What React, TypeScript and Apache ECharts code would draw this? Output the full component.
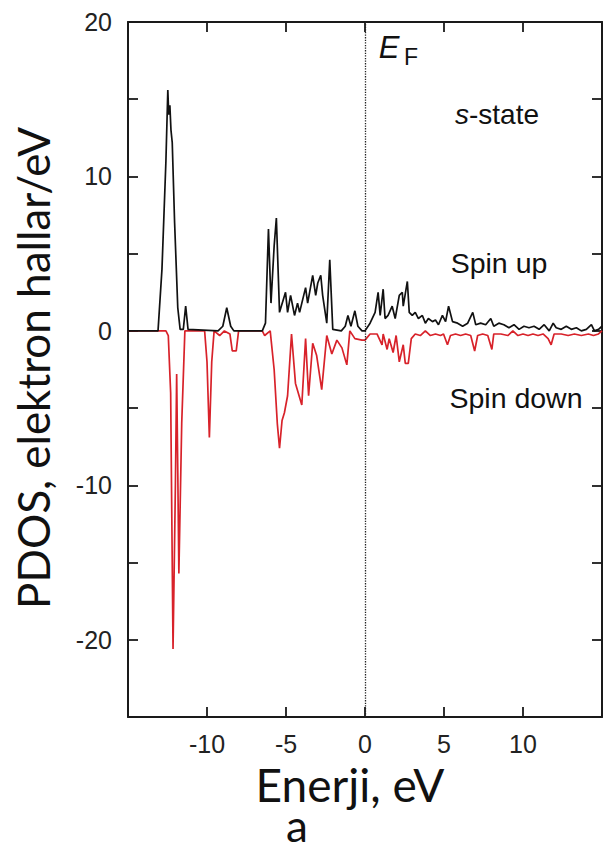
import React, { useEffect, useRef } from 'react';
import * as echarts from 'echarts';

// Energy (eV) and PDOS (electron states / eV)
const spinUpE = [
  -15, -13.1, -12.85, -12.6, -12.48, -12.42, -12.35, -12.28, -12.2, -12.05, -11.85, -11.7,
  -11.5, -11.35, -11.2, -9.3, -9.0, -8.75, -8.5, -8.3, -6.5, -6.3, -6.11, -5.95, -5.75, -5.61,
  -5.41, -5.03, -4.9, -4.71, -4.46, -4.27, -4.14, -3.76, -3.63, -3.31, -3.12, -2.99, -2.8, -2.68,
  -2.42, -2.23, -2.04, -1.5, -1.25, -1.08, -0.89, -0.64, -0.45, -0.19, 0, 0.32, 0.64, 0.83,
  0.96, 1.15, 1.27, 1.46, 1.72, 1.91, 2.17, 2.36, 2.42, 2.68, 2.8, 2.99, 3.18, 3.38, 3.63, 3.82,
  4.01, 4.27, 4.46, 4.65, 4.9, 5.1, 5.29, 5.54, 5.86, 6.18, 6.5, 6.82, 7.01, 7.32, 7.64, 7.96,
  8.15, 8.47, 8.79, 9.11, 9.43, 9.75, 10.06, 10.38, 10.7, 11.02, 11.34, 11.66, 11.91, 12.1,
  12.42, 12.74, 13.06, 13.38, 13.69, 14.01, 14.33, 14.52, 14.78, 15,
];
const spinUpDos = [
  0, 0, 4, 11, 15.6, 14.0, 14.6, 13.0, 12.2, 7, 1.5, 0.1,
  0.1, 1.6, 0.1, 0, 0.3, 1.5, 0.3, 0, 0, 0.5, 6.6, 1.8, 5.5, 7.3,
  1.2, 2.5, 1.2, 2.3, 1.0, 1.8, 1.2, 2.8, 1.8, 3.6, 2.3, 3.1, 3.6, 2.3,
  0.5, 4.6, 0.1, 0, 0.3, 1.0, 0.3, 1.3, 0.3, 0, 0, 0.5, 1.2, 2.5,
  1.0, 2.7, 0.8, 1.0, 1.6, 0.8, 2.3, 2.5, 1.6, 3.2, 1.2, 1.0, 1.2, 0.8, 1.0, 0.5,
  0.8, 0.6, 0.7, 0.4, 1.0, 0.6, 1.6, 0.6, 0.5, 0.3, 0.5, 1.2, 0.4, 0.5, 0.4, 0.8,
  0.3, 0.5, 0.4, 0.2, 0.4, 0.1, 0.3, 0.2, 0.3, 0.1, 0.4, 0, 0.5, 0.2,
  0.1, 0.3, 0.1, 0.2, 0, 0.1, 0.4, 0, 0.1, 0.3,
];

const spinDownE = [
  -15, -12.6, -12.45, -12.3, -12.15, -12.0, -11.92, -11.85, -11.78, -11.6, -11.4, -10.15,
  -10.0, -9.85, -9.7, -9.55, -9.2, -8.9, -8.55, -8.4, -8.15, -8.0, -6.5, -6.35, -6.0, -5.75,
  -5.55, -5.41, -5.25, -5.1, -4.9, -4.65, -4.4, -4.0, -3.76, -3.57, -3.31, -3.06, -2.74, -2.42,
  -2.1, -1.78, -1.46, -1.15, -0.96, -0.64, -0.19, 0, 0.32, 0.76, 1.08, 1.15, 1.4, 1.53,
  1.78, 1.97, 2.17, 2.42, 2.55, 2.74, 2.93, 3.18, 3.5, 3.82, 4.14, 4.46, 4.78, 4.97, 5.22,
  5.41, 5.73, 6.05, 6.37, 6.69, 6.94, 7.13, 7.45, 7.77, 8.03, 8.15, 8.6, 9.04, 9.36, 9.68,
  10.0, 10.32, 10.63, 10.95, 11.27, 11.59, 11.78, 11.97, 12.42, 12.86, 13.25, 13.69, 14.14,
  14.46, 14.78, 15,
];
const spinDownDos = [
  0, 0, -0.3, -4, -20.6, -10, -2.8, -9, -15.7, -6, 0, 0,
  -2, -6.9, -2, 0, -0.3, 0, -0.2, -1.3, -1.3, 0, 0, -0.3, 0, -2.5,
  -6.0, -7.6, -5.8, -5.3, -4.2, -0.2, -3.4, -4.8, -0.5, -4.2, -0.8, -1.6, -3.8, -0.3,
  -1.5, -0.6, -1.1, -2.2, 0, -0.5, -0.6, -0.6, -0.2, -0.2, -0.9, -0.2, -1.2, -0.5,
  -1.4, -0.3, -2.0, -0.9, -2.1, -2.1, -0.5, -0.2, -0.3, 0, -0.3, -0.2, -0.3, -0.2, -0.9,
  -0.3, -0.2, -0.3, -0.2, -0.3, -1.3, -0.3, -0.2, -0.3, -1.2, -0.2, -0.2, -0.3, 0, -0.3,
  -0.2, -0.3, -0.2, -0.3, -0.2, -0.5, -0.9, -0.2, -0.2, -0.3, -0.2, -0.3, -0.2,
  -0.3, -0.2, 0,
];

const xTickLabels = [-10, -5, 0, 5, 10];
const yTickLabels = [20, 10, 0, -10, -20];

const TICK_FONT = '"Liberation Sans", Arial, sans-serif';
const TITLE_FONT = 'Lato, "Noto Sans", sans-serif';
const AXIS_COLOR = '#1a1a1a';

const mkLine = () => ({ show: true, onZero: false, lineStyle: { color: AXIS_COLOR, width: 2 } });
const mkTick = () => ({ show: true, inside: true, length: 10, lineStyle: { color: AXIS_COLOR, width: 1.8 } });

export default function App() {
  const ref = useRef<HTMLDivElement>(null);

  useEffect(() => {
    if (!ref.current) return;
    const chart = echarts.init(ref.current, null, { renderer: 'svg' });
    const up = spinUpE.map((e, i) => [e, spinUpDos[i]]);
    const down = spinDownE.map((e, i) => [e, spinDownDos[i]]);

    chart.setOption({
      animation: false,
      backgroundColor: '#ffffff',
      grid: { left: 128, right: 2, top: 22, bottom: 135 },
      xAxis: [
        {
          type: 'value', min: -15, max: 15, interval: 5, position: 'bottom',
          axisLine: mkLine(), axisTick: mkTick(), splitLine: { show: false },
          axisLabel: {
            margin: 14, color: '#222', fontFamily: TICK_FONT, fontSize: 25,
            formatter: (v: number) => (xTickLabels.includes(v) ? String(v) : ''),
          },
        },
        {
          type: 'value', min: -15, max: 15, interval: 5, position: 'top',
          axisLine: mkLine(), axisTick: mkTick(), splitLine: { show: false }, axisLabel: { show: false },
        },
      ],
      yAxis: [
        {
          type: 'value', min: -25, max: 20, interval: 5, position: 'left',
          axisLine: mkLine(), axisTick: mkTick(), splitLine: { show: false },
          axisLabel: {
            margin: 16, color: '#222', fontFamily: TICK_FONT, fontSize: 25,
            formatter: (v: number) => (yTickLabels.includes(v) ? String(v) : ''),
          },
        },
        {
          type: 'value', min: -25, max: 20, interval: 5, position: 'right',
          axisLine: mkLine(), axisTick: mkTick(), splitLine: { show: false }, axisLabel: { show: false },
        },
      ],
      series: [
        {
          name: 'Spin down', type: 'line', data: down, showSymbol: false, symbol: 'none',
          lineStyle: { color: '#d8222a', width: 1.7 }, z: 2,
          markLine: {
            silent: true, symbol: 'none', label: { show: false },
            lineStyle: { type: 'dotted', color: '#222', width: 1.3 },
            data: [{ xAxis: 0 }],
          },
        },
        {
          name: 'Spin up', type: 'line', data: up, showSymbol: false, symbol: 'none',
          lineStyle: { color: '#111111', width: 1.7 }, z: 3,
        },
      ],
      graphic: [
        { type: 'text', x: 389, y: 47, style: { text: 'E', font: 'italic 31px "Liberation Sans", Arial', fill: '#111', align: 'center', verticalAlign: 'middle' } },
        { type: 'text', x: 411, y: 57, style: { text: 'F', font: '23px "Liberation Sans", Arial', fill: '#111', align: 'center', verticalAlign: 'middle' } },
        {
          type: 'text', x: 497, y: 114,
          style: {
            text: '{i|s}-state', align: 'center', verticalAlign: 'middle',
            font: '28px "Liberation Sans", Arial', fill: '#111',
            rich: { i: { fontStyle: 'italic', fontSize: 28, fontFamily: 'Liberation Sans', fill: '#111' } },
          },
        },
        { type: 'text', x: 499, y: 263, style: { text: 'Spin up', font: '28.5px "Liberation Sans", Arial', fill: '#111', align: 'center', verticalAlign: 'middle' } },
        { type: 'text', x: 516, y: 398, style: { text: 'Spin down', font: '28.5px "Liberation Sans", Arial', fill: '#111', align: 'center', verticalAlign: 'middle' } },
        { type: 'text', x: 350, y: 784, style: { text: 'Enerji, eV', font: `46px ${TITLE_FONT}`, fill: '#111', align: 'center', verticalAlign: 'middle' } },
        { type: 'text', x: 297, y: 825, style: { text: 'a', font: `44px ${TITLE_FONT}`, fill: '#111', align: 'center', verticalAlign: 'middle' } },
        {
          type: 'text', x: 33, y: 368, rotation: Math.PI / 2,
          style: { text: 'PDOS, elektron hallar/eV', font: `44px ${TITLE_FONT}`, fill: '#111', align: 'center', verticalAlign: 'middle' },
        },
      ],
    });

    return () => chart.dispose();
  }, []);

  return (
    <div
      ref={ref}
      style={{ position: 'absolute', left: 0, top: 0, width: 605, height: 852, background: '#fff' }}
    />
  );
}
